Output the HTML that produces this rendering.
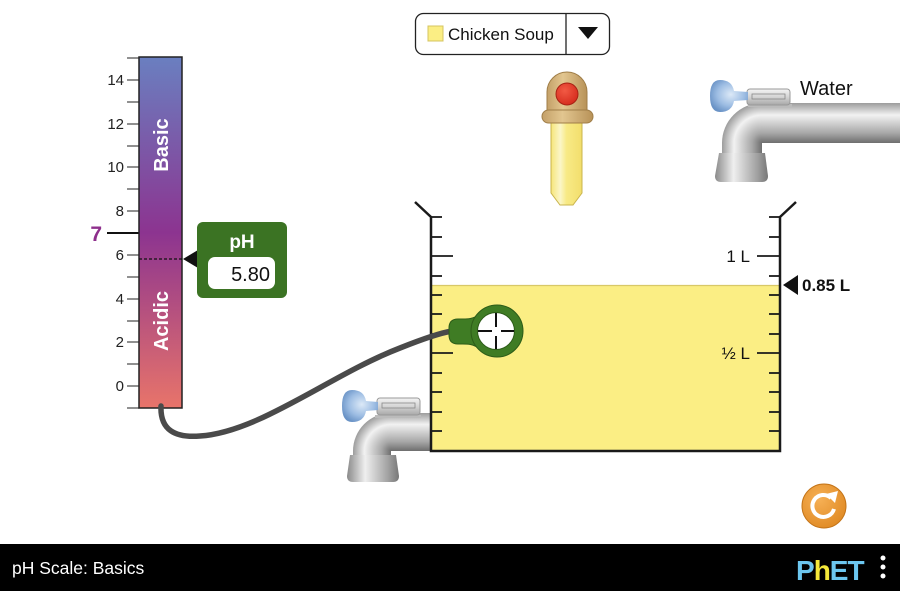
<!DOCTYPE html>
<html><head><meta charset="utf-8"><style>
html,body{margin:0;padding:0;background:#fff;}
svg{display:block;}
text{font-family:"Liberation Sans",Arial,sans-serif;}
</style></head><body>
<svg width="900" height="591" viewBox="0 0 900 591" xmlns="http://www.w3.org/2000/svg">
<defs>
<linearGradient id="phg" x1="0" y1="0" x2="0" y2="1">
<stop offset="0" stop-color="#6a7fc0"/>
<stop offset="0.5" stop-color="#8c3490"/>
<stop offset="1" stop-color="#e8746a"/>
</linearGradient>
<linearGradient id="pipeH" x1="0" y1="0" x2="0" y2="1">
<stop offset="0" stop-color="#9c9c9c"/>
<stop offset="0.3" stop-color="#f2f2f2"/>
<stop offset="0.75" stop-color="#a8a8a8"/>
<stop offset="1" stop-color="#6e6e6e"/>
</linearGradient>
<linearGradient id="pipeV" x1="0" y1="0" x2="1" y2="0">
<stop offset="0" stop-color="#9c9c9c"/>
<stop offset="0.3" stop-color="#f2f2f2"/>
<stop offset="0.75" stop-color="#a8a8a8"/>
<stop offset="1" stop-color="#6e6e6e"/>
</linearGradient>
<radialGradient id="elbowR" cx="762" cy="143" r="40" gradientUnits="userSpaceOnUse">
<stop offset="0" stop-color="#6e6e6e"/>
<stop offset="0.25" stop-color="#a8a8a8"/>
<stop offset="0.7" stop-color="#f2f2f2"/>
<stop offset="1" stop-color="#9c9c9c"/>
</radialGradient>
<radialGradient id="elbowL" cx="391" cy="451" r="38" gradientUnits="userSpaceOnUse">
<stop offset="0" stop-color="#6e6e6e"/>
<stop offset="0.25" stop-color="#a8a8a8"/>
<stop offset="0.7" stop-color="#f2f2f2"/>
<stop offset="1" stop-color="#9c9c9c"/>
</radialGradient>
<linearGradient id="base" x1="0" y1="0" x2="1" y2="0">
<stop offset="0" stop-color="#8a8a8a"/>
<stop offset="0.35" stop-color="#efefef"/>
<stop offset="0.8" stop-color="#a0a0a0"/>
<stop offset="1" stop-color="#777"/>
</linearGradient>
<radialGradient id="knob" cx="0.55" cy="0.45" r="0.6">
<stop offset="0" stop-color="#dce9f7"/>
<stop offset="0.6" stop-color="#9dbde3"/>
<stop offset="1" stop-color="#6a93c6"/>
</radialGradient>
<linearGradient id="handle" x1="0" y1="0" x2="0" y2="1">
<stop offset="0" stop-color="#f4f4f4"/>
<stop offset="0.5" stop-color="#d4d4d4"/>
<stop offset="1" stop-color="#a8a8a8"/>
</linearGradient>
<linearGradient id="tube" x1="0" y1="0" x2="1" y2="0">
<stop offset="0" stop-color="#f6e57a"/>
<stop offset="0.3" stop-color="#fbf6c8"/>
<stop offset="0.5" stop-color="#f8ea86"/>
<stop offset="1" stop-color="#f2de6c"/>
</linearGradient>
<linearGradient id="cap" x1="0" y1="0" x2="1" y2="0">
<stop offset="0" stop-color="#c4a068"/>
<stop offset="0.4" stop-color="#e2c690"/>
<stop offset="1" stop-color="#b89258"/>
</linearGradient>
<radialGradient id="red" cx="0.4" cy="0.35" r="0.7">
<stop offset="0" stop-color="#f25a44"/>
<stop offset="1" stop-color="#d42a1c"/>
</radialGradient>
<radialGradient id="orange" cx="0.4" cy="0.35" r="0.7">
<stop offset="0" stop-color="#f6b055"/>
<stop offset="1" stop-color="#e08a24"/>
</radialGradient>
</defs>

<!-- pH scale ticks -->
<g stroke="#555" stroke-width="1.3">
<line x1="127" y1="58" x2="139" y2="58"/>
<line x1="127" y1="80" x2="139" y2="80"/>
<line x1="127" y1="102" x2="139" y2="102"/>
<line x1="127" y1="124" x2="139" y2="124"/>
<line x1="127" y1="146" x2="139" y2="146"/>
<line x1="127" y1="167" x2="139" y2="167"/>
<line x1="127" y1="189" x2="139" y2="189"/>
<line x1="127" y1="211" x2="139" y2="211"/>
<line x1="127" y1="255" x2="139" y2="255"/>
<line x1="127" y1="277" x2="139" y2="277"/>
<line x1="127" y1="299" x2="139" y2="299"/>
<line x1="127" y1="321" x2="139" y2="321"/>
<line x1="127" y1="342" x2="139" y2="342"/>
<line x1="127" y1="364" x2="139" y2="364"/>
<line x1="127" y1="386" x2="139" y2="386"/>
<line x1="127" y1="408" x2="139" y2="408"/>
</g>
<g font-size="15" fill="#222" text-anchor="end">
<text x="124" y="85">14</text>
<text x="124" y="129">12</text>
<text x="124" y="172">10</text>
<text x="124" y="216">8</text>
<text x="124" y="260">6</text>
<text x="124" y="304">4</text>
<text x="124" y="347">2</text>
<text x="124" y="391">0</text>
</g>
<line x1="107" y1="233" x2="139" y2="233" stroke="#111" stroke-width="2"/>
<text x="102" y="241" font-size="21" font-weight="bold" fill="#8e2f8c" text-anchor="end">7</text>

<rect x="139" y="57" width="43" height="351" fill="url(#phg)" stroke="#222" stroke-width="1.5"/>
<text transform="translate(168,145) rotate(-90)" font-size="20" font-weight="bold" fill="#fff" text-anchor="middle">Basic</text>
<text transform="translate(168,321) rotate(-90)" font-size="20" font-weight="bold" fill="#fff" text-anchor="middle">Acidic</text>
<line x1="139" y1="259" x2="183" y2="259" stroke="#111" stroke-width="1.3" stroke-dasharray="3,2"/>
<polygon points="183,259 198,250 198,268" fill="#111"/>

<!-- pH meter box -->
<rect x="197" y="222" width="90" height="76" rx="6" fill="#3b7323"/>
<text x="242" y="248" font-size="19" font-weight="bold" fill="#fff" text-anchor="middle">pH</text>
<rect x="208" y="257" width="67" height="32" rx="7" fill="#fff"/>
<text x="270" y="281" font-size="20" fill="#111" text-anchor="end">5.80</text>

<!-- Dropdown -->
<rect x="415.5" y="13.5" width="194" height="41" rx="8" fill="#fff" stroke="#222" stroke-width="1.3"/>
<line x1="566" y1="14" x2="566" y2="54" stroke="#222" stroke-width="1.3"/>
<rect x="428" y="26" width="15" height="15" fill="#fbee84" stroke="#d4c460" stroke-width="1"/>
<text x="448" y="40" font-size="17" fill="#111">Chicken Soup</text>
<polygon points="578,27 598,27 588,39" fill="#111"/>

<!-- Dropper -->
<path d="M551,122 L582,122 L582,193 L573,205 L560,205 L551,193 Z" fill="url(#tube)" stroke="#c9b44c" stroke-width="1"/>
<path d="M547,112 L547,92 A20,20 0 0 1 587,92 L587,112 Z" fill="url(#cap)" stroke="#a07e48" stroke-width="1"/>
<rect x="542" y="110" width="51" height="13" rx="6.5" fill="url(#cap)" stroke="#a07e48" stroke-width="1"/>
<circle cx="567" cy="94" r="11" fill="url(#red)" stroke="#a82214" stroke-width="1"/>

<!-- Right faucet -->
<rect x="762" y="103" width="138" height="40" fill="url(#pipeH)"/>
<path d="M762,143 L722,143 A40,40 0 0 1 762,103 Z" fill="url(#elbowR)"/>
<rect x="722" y="142" width="40" height="14" fill="url(#pipeV)"/>
<path d="M719,153 L765,153 L768,176 Q768,182 762,182 L721,182 Q715,182 715,176 Z" fill="url(#base)"/>
<rect x="748" y="104" width="44" height="3" fill="#bbb"/>
<rect x="747" y="89" width="43" height="16" rx="3" fill="url(#handle)" stroke="#999" stroke-width="1"/>
<rect x="752" y="94" width="33" height="5" fill="none" stroke="#888" stroke-width="0.8"/>
<path d="M720,80 Q732,80 734,91 L748,92 L748,100 L734,101 Q732,112 720,112 Q710,112 710,96 Q710,80 720,80 Z" fill="url(#knob)"/>
<text x="800" y="95" font-size="20" fill="#111">Water</text>

<!-- Left faucet -->
<rect x="391" y="413" width="42" height="38" fill="url(#pipeH)"/>
<path d="M391,451 L353,451 A38,38 0 0 1 391,413 Z" fill="url(#elbowL)"/>
<rect x="353" y="450" width="38" height="8" fill="url(#pipeV)"/>
<path d="M350,455 L396,455 L399,476 Q399,482 393,482 L353,482 Q347,482 347,476 Z" fill="url(#base)"/>
<rect x="375" y="415" width="46" height="3" fill="#bbb"/>
<rect x="377" y="398" width="43" height="17" rx="3" fill="url(#handle)" stroke="#999" stroke-width="1"/>
<rect x="382" y="403" width="33" height="5" fill="none" stroke="#888" stroke-width="0.8"/>
<path d="M352,390 Q364,390 366,401 L378,402 L378,410 L366,411 Q364,422 352,422 Q342,422 342,406 Q342,390 352,390 Z" fill="url(#knob)"/>

<!-- Beaker liquid -->
<rect x="431" y="285" width="349" height="166" fill="#fbee84"/>
<line x1="431" y1="285.5" x2="780" y2="285.5" stroke="#d8c868" stroke-width="1.2"/>

<!-- Beaker walls -->
<g stroke="#1a1a1a" fill="none">
<polyline points="415,202 431,217 431,451 780,451 780,217 796,202" stroke-width="2.5"/>
</g>
<g stroke="#1a1a1a" stroke-width="1.8">
<line x1="431" y1="217" x2="442" y2="217"/>
<line x1="431" y1="237" x2="442" y2="237"/>
<line x1="431" y1="256" x2="453" y2="256"/>
<line x1="431" y1="276" x2="442" y2="276"/>
<line x1="431" y1="295" x2="442" y2="295"/>
<line x1="431" y1="314" x2="442" y2="314"/>
<line x1="431" y1="334" x2="442" y2="334"/>
<line x1="431" y1="353" x2="453" y2="353"/>
<line x1="431" y1="373" x2="442" y2="373"/>
<line x1="431" y1="392" x2="442" y2="392"/>
<line x1="431" y1="412" x2="442" y2="412"/>
<line x1="431" y1="431" x2="442" y2="431"/>
<line x1="769" y1="217" x2="780" y2="217"/>
<line x1="769" y1="237" x2="780" y2="237"/>
<line x1="757" y1="256" x2="780" y2="256"/>
<line x1="769" y1="276" x2="780" y2="276"/>
<line x1="769" y1="295" x2="780" y2="295"/>
<line x1="769" y1="314" x2="780" y2="314"/>
<line x1="769" y1="334" x2="780" y2="334"/>
<line x1="757" y1="353" x2="780" y2="353"/>
<line x1="769" y1="373" x2="780" y2="373"/>
<line x1="769" y1="392" x2="780" y2="392"/>
<line x1="769" y1="412" x2="780" y2="412"/>
<line x1="769" y1="431" x2="780" y2="431"/>
</g>
<text x="750" y="262" font-size="17" fill="#111" text-anchor="end">1 L</text>
<text x="750" y="359" font-size="17" fill="#111" text-anchor="end">½ L</text>
<polygon points="783,285 798,275 798,295" fill="#111"/>
<text x="802" y="291" font-size="17" font-weight="bold" fill="#111">0.85 L</text>

<!-- Cable -->
<path d="M161,406 C160,430 175,438 200,436 C260,432 330,375 400,348 C420,340 440,333 452,331" fill="none" stroke="#4a4a4a" stroke-width="5.5" stroke-linecap="round"/>

<!-- Probe -->
<path d="M480,314 C472,320 466,319 458,319 Q449,319 449,328 L449,335 Q449,344 458,344 C466,344 472,343 480,349 Z" fill="#3f7c24" stroke="#2d5c18" stroke-width="1"/>
<circle cx="497" cy="331" r="26" fill="#3f7c24" stroke="#2d5c18" stroke-width="1"/>
<circle cx="496" cy="331" r="18.5" fill="#fff" stroke="#2d5c18" stroke-width="1"/>
<g stroke="#111" stroke-width="2">
<line x1="478" y1="331" x2="492" y2="331"/>
<line x1="501" y1="331" x2="514" y2="331"/>
<line x1="496" y1="313" x2="496" y2="327"/>
<line x1="496" y1="336" x2="496" y2="349"/>
</g>

<!-- Reset -->
<circle cx="824" cy="506" r="22" fill="url(#orange)" stroke="#c47418" stroke-width="1"/>
<path d="M831,498 A11,11 0 1 0 834,509" fill="none" stroke="#fff" stroke-width="4"/>
<polygon points="826,494 838,491 835,503" fill="#fff"/>

<!-- Bottom bar -->
<rect x="0" y="544" width="900" height="47" fill="#000"/>
<text x="12" y="574" font-size="17.5" fill="#fff">pH Scale: Basics</text>
<text x="796" y="580" font-size="28" font-weight="bold" fill="#6cc6ef" letter-spacing="-1">P<tspan fill="#f4e83a">h</tspan>ET</text>
<circle cx="883" cy="558" r="2.5" fill="#fff"/>
<circle cx="883" cy="567" r="2.5" fill="#fff"/>
<circle cx="883" cy="576" r="2.5" fill="#fff"/>
</svg>
</body></html>
